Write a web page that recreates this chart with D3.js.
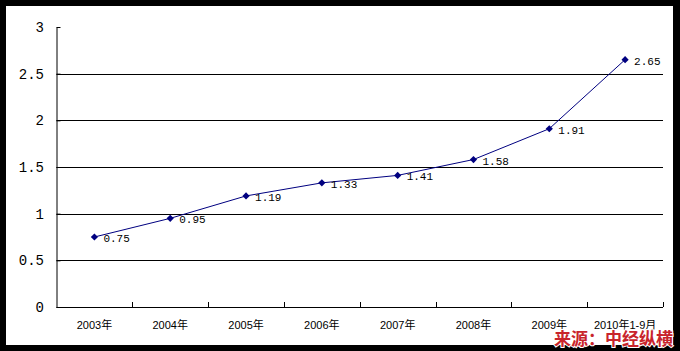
<!DOCTYPE html>
<html>
<head>
<meta charset="utf-8">
<script src="https://cdn.jsdelivr.net/npm/d3@7"></script>
<style>
  body { margin: 0; background: #000; }
  svg { display: block; }
</style>
</head>
<body>
<div id="chart"></div>
<script>
const categories = ["2003年", "2004年", "2005年", "2006年", "2007年", "2008年", "2009年", "2010年1-9月"];
const values = [0.75, 0.95, 1.19, 1.33, 1.41, 1.58, 1.91, 2.65];
const yTicks = [0, 0.5, 1, 1.5, 2, 2.5, 3];
const yTickLabels = ["0", "0.5", "1", "1.5", "2", "2.5", "3"];
const sourceText = "来源：中经纵横";

const width = 680;
const height = 351;

// plot area inside the white frame
const margin = { top: 27, right: 17, bottom: 44, left: 56.5 };
const plotRight = width - margin.right;
const plotBottom = height - margin.bottom;

const svg = d3.select("#chart")
  .append("svg")
  .attr("width", width)
  .attr("height", height);

// black frame + white chart area
svg.append("rect").attr("width", width).attr("height", height).attr("fill", "#000");
svg.append("rect").attr("x", 6).attr("y", 6).attr("width", 667).attr("height", 339).attr("fill", "#fff");

const x = d3.scaleBand()
  .domain(categories)
  .range([margin.left, plotRight]);

const y = d3.scaleLinear()
  .domain([0, 3])
  .range([plotBottom, margin.top]);

// gridlines (not at the top value)
svg.append("g")
  .selectAll("line")
  .data(yTicks.filter((d) => d > 0 && d < 3))
  .join("line")
  .attr("x1", margin.left)
  .attr("x2", plotRight)
  .attr("y1", (d) => Math.round(y(d)) + 0.5)
  .attr("y2", (d) => Math.round(y(d)) + 0.5)
  .attr("stroke", "#000")
  .attr("stroke-width", 1);

// Y axis, ticks inside
const yAxis = svg.append("g")
  .attr("transform", `translate(${margin.left},0)`)
  .call(d3.axisRight(y).tickValues(yTicks).tickSize(4).tickSizeOuter(0).tickFormat(""));
yAxis.select(".domain").attr("stroke", "#000");
yAxis.selectAll("line").attr("stroke", "#000");

// Y labels
svg.append("g")
  .selectAll("text")
  .data(yTicks)
  .join("text")
  .attr("x", 44)
  .attr("y", (d) => y(d))
  .attr("dy", "0.35em")
  .attr("text-anchor", "end")
  .style("font-family", "'Liberation Mono', monospace")
  .style("font-size", "14px")
  .attr("fill", "#000")
  .text((d, i) => yTickLabels[i]);

// X axis, ticks pointing up at band boundaries
const xAxisG = svg.append("g");
xAxisG.append("line")
  .attr("x1", margin.left)
  .attr("x2", plotRight)
  .attr("y1", Math.round(plotBottom) + 0.5)
  .attr("y2", Math.round(plotBottom) + 0.5)
  .attr("stroke", "#000");
xAxisG.selectAll(".xtick")
  .data(categories)
  .join("line")
  .attr("class", "xtick")
  .attr("x1", (d) => Math.round(x(d) + x.bandwidth()) + 0.5)
  .attr("x2", (d) => Math.round(x(d) + x.bandwidth()) + 0.5)
  .attr("y1", plotBottom)
  .attr("y2", plotBottom - 5)
  .attr("stroke", "#000");

// X labels
svg.append("g")
  .selectAll("text")
  .data(categories)
  .join("text")
  .attr("x", (d) => x(d) + x.bandwidth() / 2)
  .attr("y", plotBottom + 22)
  .attr("text-anchor", "middle")
  .style("font-family", "'Liberation Sans', 'Noto Sans CJK SC', sans-serif")
  .style("font-size", "11px")
  .attr("fill", "#000")
  .text((d) => d);

// line
const line = d3.line()
  .x((d, i) => x(categories[i]) + x.bandwidth() / 2)
  .y((d) => y(d));

svg.append("path")
  .datum(values)
  .attr("d", line)
  .attr("fill", "none")
  .attr("stroke", "#000080")
  .attr("stroke-width", 1);

// diamond markers
svg.append("g")
  .selectAll("path")
  .data(values)
  .join("path")
  .attr("d", d3.symbol().type(d3.symbolSquare).size(26))
  .attr("transform", (d, i) => `translate(${x(categories[i]) + x.bandwidth() / 2},${y(d)}) rotate(45)`)
  .attr("fill", "#000080");

// value labels
svg.append("g")
  .selectAll("text")
  .data(values)
  .join("text")
  .attr("x", (d, i) => x(categories[i]) + x.bandwidth() / 2 + 9)
  .attr("y", (d) => y(d) + 5)
  .style("font-family", "'Liberation Mono', monospace")
  .style("font-size", "11px")
  .attr("fill", "#000")
  .text((d) => d.toFixed(2));

// source note
svg.append("text")
  .attr("x", 673)
  .attr("y", 345)
  .attr("text-anchor", "end")
  .style("font-family", "'Noto Sans CJK SC', sans-serif")
  .style("font-size", "17px")
  .style("font-weight", "bold")
  .style("paint-order", "stroke")
  .attr("stroke", "#fff")
  .attr("stroke-width", 2)
  .attr("fill", "#c8242b")
  .text(sourceText);
</script>
</body>
</html>
